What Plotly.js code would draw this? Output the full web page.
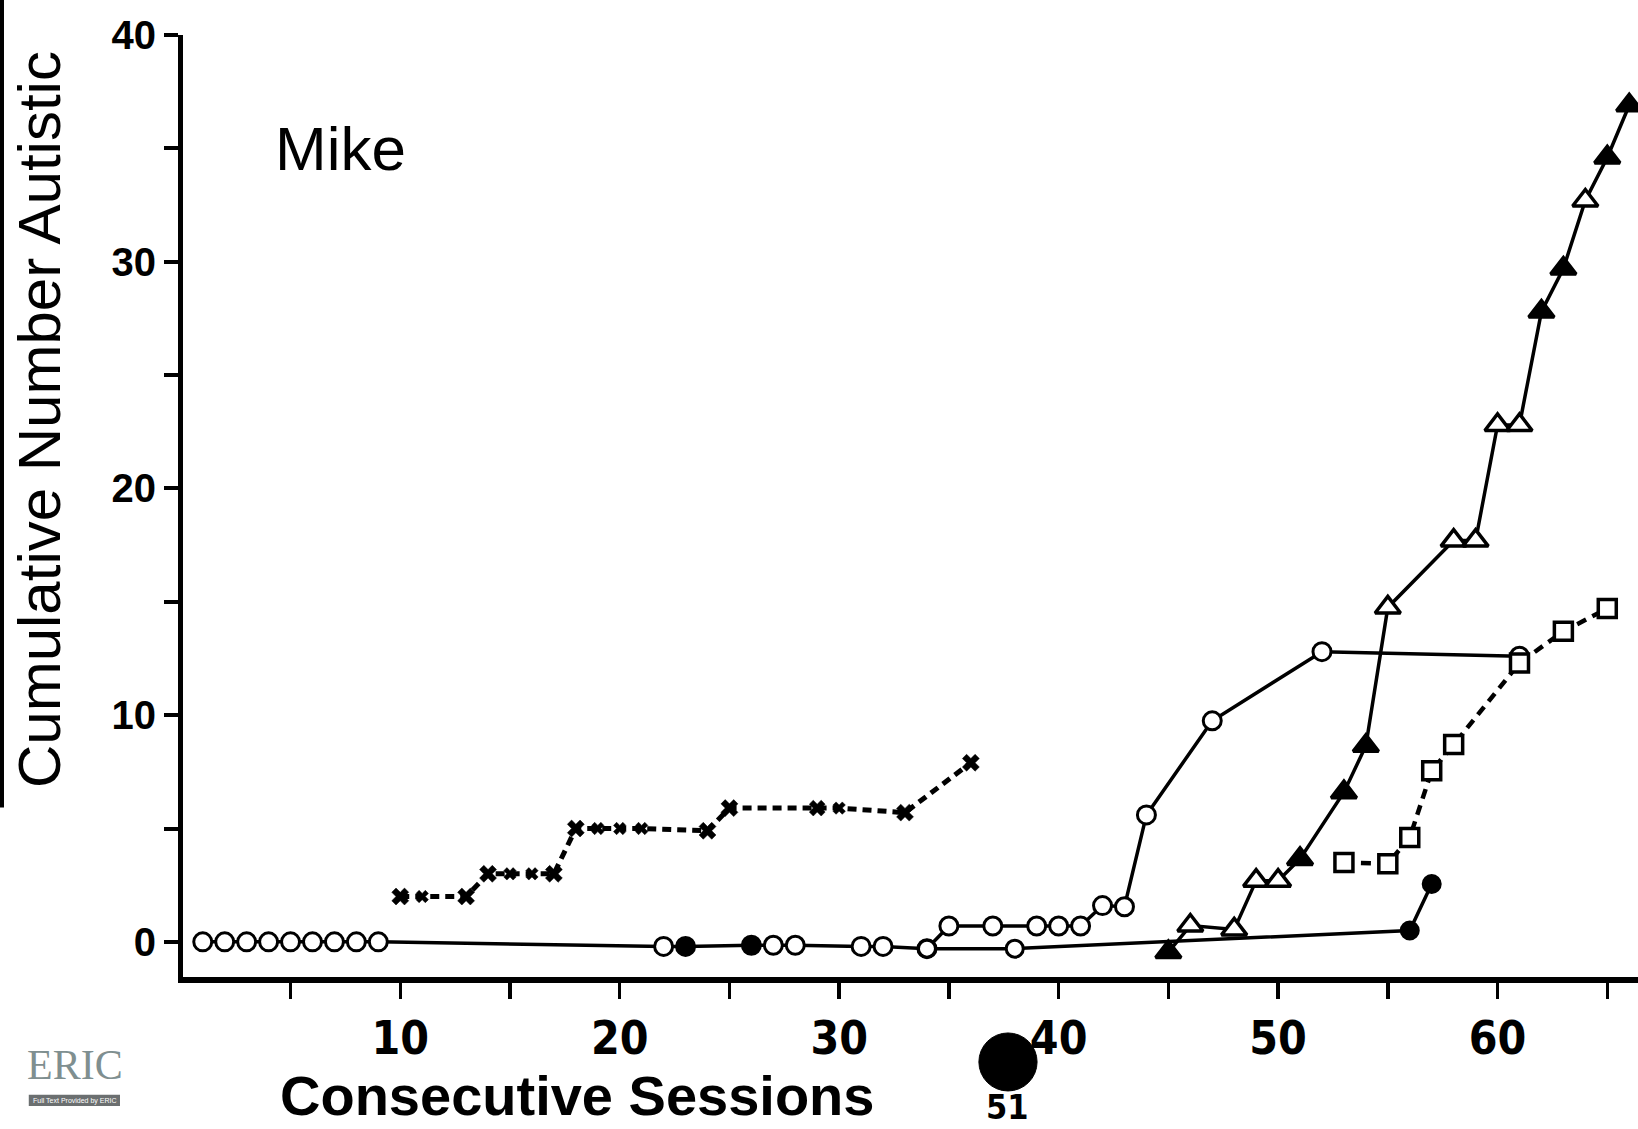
<!DOCTYPE html>
<html><head><meta charset="utf-8">
<script src="https://cdn.plot.ly/plotly-3.0.1.min.js"></script>
<style>html,body{margin:0;padding:0;background:#fff}#chart{width:1638px;height:1129px}</style>
</head><body><div id="chart"></div>
<script>
// Open-circle series (solid line)
const circA_x = [1,2,3,4,5,6,7,8,9,22,23,26,27,28,31,32,34,35,37,39,40,41,42,43,44,47,52,61];
const circA_y = [0,0,0,0,0,0,0,0,0,-0.2,-0.2,-0.15,-0.15,-0.15,-0.2,-0.2,-0.3,0.7,0.7,0.7,0.7,0.7,1.6,1.55,5.6,9.75,12.8,12.6];
const circA_fill = ['white','white','white','white','white','white','white','white','white','white','black','black','white','white','white','white','white','white','white','white','white','white','white','white','white','white','white','white'];
// Baseline continuation (solid line)
const circB_x = [34,38,56,57];
const circB_y = [-0.3,-0.3,0.5,2.55];
const circB_fill = ['white','white','black','black'];
// Triangle series (solid line)
const tri_x = [45,46,48,49,50,51,53,54,55,58,59,60,61,62,63,64,65,66];
const tri_y = [-0.45,0.72,0.55,2.7,2.7,3.66,6.6,8.65,14.75,17.7,17.7,22.8,22.8,27.8,29.7,32.7,34.6,36.9];
const tri_fill = ['black','white','white','white','white','black','black','black','white','white','white','white','white','black','black','white','black','black'];
// Square series (dashed line)
const sq_x = [53,55,56,57,58,61,63,65];
const sq_y = [3.5,3.45,4.6,7.55,8.7,12.3,13.7,14.7];
// X-marker series (dashed line)
const xs_x = [10,11,13,14,15,16,17,18,19,20,21,24,25,29,30,33,36];
const xs_y = [2,2,2,3,3,3,3,5,5,5,5,4.9,5.9,5.9,5.9,5.7,7.9];
const xs_size = [15,11,15,15,11,11,15,15,11,11,11,15,15,14,11,15,15];
// Axis ticks
const xTickVals = [5,10,15,20,25,30,35,40,45,50,55,60,65];
const xTickText = ['','10','','20','','30','','40','','50','','60',''];
const yTickVals = [0,5,10,15,20,25,30,35,40];
const yTickText = ['0','','10','','20','','30','','40'];

const traces = [
  {x:circA_x, y:circA_y, mode:'lines+markers', type:'scatter',
   line:{color:'black', width:3.5},
   marker:{symbol:'circle', size:18, color:circA_fill, line:{color:'black', width:3}}},
  {x:circB_x, y:circB_y, mode:'lines+markers', type:'scatter',
   line:{color:'black', width:3.5},
   marker:{symbol:'circle', size:17, color:circB_fill, line:{color:'black', width:3}}},
  {x:tri_x, y:tri_y, mode:'lines+markers', type:'scatter',
   line:{color:'black', width:3.5},
   marker:{symbol:'triangle-up', size:22, color:tri_fill, line:{color:'black', width:3.5}}},
  {x:sq_x, y:sq_y, mode:'lines+markers', type:'scatter',
   line:{color:'black', width:4.5, dash:'10px,7px'},
   marker:{symbol:'square', size:18, color:'white', line:{color:'black', width:3.5}}},
  {x:xs_x, y:xs_y, mode:'lines+markers', type:'scatter',
   line:{color:'black', width:5, dash:'9px,6px'},
   marker:{symbol:'x', size:xs_size, color:'black', opacity:1, line:{color:'black', width:0.5}}}
];

const narrow = 'Liberation Sans Narrow, DejaVu Sans Condensed, Arial Narrow, sans-serif';
const layout = {
  width:1638, height:1129,
  margin:{l:183, r:0, t:35, b:152, pad:0},
  paper_bgcolor:'white', plot_bgcolor:'white',
  showlegend:false,
  xaxis:{range:[0.1,66.4], tickvals:xTickVals, ticktext:xTickText, ticks:'outside',
    ticklen:16, tickwidth:3.5, tickcolor:'black', showline:true, linewidth:6, linecolor:'black',
    showgrid:false, zeroline:false,
    tickfont:{family:narrow, size:46, color:'black', weight:'bold'}},
  yaxis:{range:[-1.55,40], tickvals:yTickVals, ticktext:yTickText, ticks:'outside',
    ticklen:14, tickwidth:4, tickcolor:'black', showline:true, linewidth:5, linecolor:'black',
    showgrid:false, zeroline:false,
    tickfont:{family:'Liberation Sans, Arial, sans-serif', size:40, color:'black', weight:'bold'}},
  annotations:[
    {text:'Mike', xref:'paper', yref:'paper', x:0.108, y:0.880, xanchor:'center', yanchor:'middle',
     showarrow:false, font:{family:'Liberation Sans, Arial, sans-serif', size:62, color:'black'}},
    {text:'Cumulative Number Autistic', xref:'paper', yref:'paper', x:-0.0985, y:0.592, textangle:-90,
     xanchor:'center', yanchor:'middle', showarrow:false,
     font:{family:'Liberation Sans, Arial, sans-serif', size:60, color:'black'}},
    {text:'Consecutive Sessions', xref:'paper', yref:'paper', x:0.2708, y:-0.1253,
     xanchor:'center', yanchor:'middle', showarrow:false,
     font:{family:'Liberation Sans, Arial, sans-serif', size:56, color:'black', weight:'bold'}},
    {text:'51', xref:'paper', yref:'paper', x:0.567, y:-0.1146, xanchor:'center', yanchor:'top',
     showarrow:false, font:{family:narrow, size:34, color:'black', weight:'bold'}},
    {text:'ERIC', xref:'paper', yref:'paper', x:-0.0742, y:-0.093, xanchor:'center', yanchor:'middle',
     showarrow:false, font:{family:'Liberation Serif, DejaVu Serif, serif', size:42, color:'#7f8f90'}},
    {text:'Full Text Provided by ERIC', xref:'paper', yref:'paper', x:-0.0742, y:-0.1315, xanchor:'center', yanchor:'middle',
     showarrow:false, font:{family:'Liberation Sans, Arial, sans-serif', size:7, color:'white'}}
  ],
  shapes:[
    {type:'circle', xref:'paper', yref:'paper', x0:0.547, x1:0.587, y0:-0.121, y1:-0.0594,
     fillcolor:'black', line:{color:'black', width:1}},
    {type:'rect', xref:'paper', yref:'paper', x0:-0.106, x1:-0.0433, y0:-0.137, y1:-0.125,
     fillcolor:'#6b6f70', line:{width:0}},
    {type:'line', xref:'paper', yref:'paper', x0:-0.1244, x1:-0.1244, y0:0.18, y1:1.04,
     line:{color:'black', width:4}}
  ]
};
Plotly.newPlot('chart', traces, layout, {displayModeBar:false, staticPlot:true});
</script>
</body></html>
